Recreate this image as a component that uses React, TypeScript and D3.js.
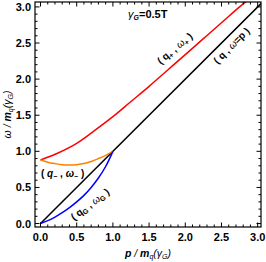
import React from 'react';
import { scaleLinear, line, curveCatmullRom, range } from 'd3';

const width = 266;
const height = 262;
const frame = { left: 35, right: 261, top: 2, bottom: 227 };

// curves
const pPlus = [0, 0.25, 0.5, 0.75, 1.0, 1.25, 1.5, 1.75, 2.0, 2.25, 2.5, 2.75, 2.9];
const wPlus = [0.88, 0.98, 1.11, 1.29, 1.48, 1.69, 1.9, 2.12, 2.34, 2.56, 2.78, 3.0, 3.12];

const pMinus = [0, 0.1, 0.2, 0.3, 0.4, 0.5, 0.6, 0.7, 0.8, 0.9, 1.0];
const wMinus = [0.88, 0.85, 0.83, 0.815, 0.81, 0.815, 0.83, 0.86, 0.9, 0.945, 1.0];

const pGluon = [0, 0.1, 0.2, 0.3, 0.4, 0.5, 0.6, 0.7, 0.8, 0.9, 1.0];
const wGluon = [0, 0.04, 0.09, 0.15, 0.22, 0.3, 0.39, 0.5, 0.63, 0.79, 1.0];

const pLight = [0, 3.1];
const wLight = [0, 3.1];

const majorTicks = [0, 0.5, 1.0, 1.5, 2.0, 2.5, 3.0];
const minorTicks = range(0, 31).map(i => i / 10);

const font = '"Liberation Sans", Arial, sans-serif';

const App = () => {
  const x = scaleLinear().domain([-0.076, 3.046]).range([frame.left, frame.right]);
  const y = scaleLinear().domain([-0.048, 3.068]).range([frame.bottom, frame.top]);

  const path = (ps: number[], ws: number[]) =>
    line<number>()
      .x(i => x(ps[i]))
      .y(i => y(ws[i]))
      .curve(curveCatmullRom)(ps.map((_, i) => i)) as string;

  const fw = frame.right - frame.left;
  const fh = frame.bottom - frame.top;

  return (
    <svg width={width} height={height} style={{ position: 'absolute', left: 0, top: 0 }} fontFamily={font}>
      <defs>
        <clipPath id="plot">
          <rect x={frame.left} y={frame.top} width={fw} height={fh} />
        </clipPath>
      </defs>

      <g clipPath="url(#plot)" fill="none" strokeWidth={1.5}>
        <path d={path(pLight, wLight)} stroke="#000" />
        <path d={path(pPlus, wPlus)} stroke="#ff0000" />
        <path d={path(pMinus, wMinus)} stroke="#ff8000" />
        <path d={path(pGluon, wGluon)} stroke="#0000ff" />
      </g>

      <rect x={frame.left} y={frame.top} width={fw} height={fh} fill="none" stroke="#000" strokeWidth={1.2} />

      {minorTicks.map(t => {
        const major = Math.abs(t * 2 - Math.round(t * 2)) < 1e-6;
        const len = major ? 4.5 : 2.5;
        return (
          <g key={t} stroke="#000" strokeWidth={1}>
            <line x1={x(t)} x2={x(t)} y1={frame.bottom} y2={frame.bottom - len} />
            <line x1={x(t)} x2={x(t)} y1={frame.top} y2={frame.top + len} />
            <line y1={y(t)} y2={y(t)} x1={frame.left} x2={frame.left + len} />
            <line y1={y(t)} y2={y(t)} x1={frame.right} x2={frame.right - len} />
          </g>
        );
      })}

      {majorTicks.map(t => (
        <text key={'x' + t} x={x(t)} y={frame.bottom + 14} textAnchor="middle" fontSize={11} fontWeight="bold">
          {t.toFixed(1)}
        </text>
      ))}
      {majorTicks.map(t => (
        <text key={'y' + t} x={frame.left - 4} y={y(t) + 4} textAnchor="end" fontSize={11} fontWeight="bold">
          {t.toFixed(1)}
        </text>
      ))}

      <text x={(frame.left + frame.right) / 2} y={257} textAnchor="middle" fontSize={10.5} fontStyle="italic">
        <tspan fontWeight="bold">p</tspan> / <tspan fontWeight="bold">m</tspan>
        <tspan fontSize={7} dy={2}>q</tspan>
        <tspan dy={-2}>(γ</tspan>
        <tspan fontSize={7} dy={2}>G</tspan>
        <tspan dy={-2}>)</tspan>
      </text>

      <text transform={`translate(11, ${(frame.top + frame.bottom) / 2}) rotate(-90)`} textAnchor="middle" fontSize={10.5} fontStyle="italic">
        <tspan>ω</tspan> / <tspan fontWeight="bold">m</tspan>
        <tspan fontSize={7} dy={2}>q</tspan>
        <tspan dy={-2}>(γ</tspan>
        <tspan fontSize={7} dy={2}>G</tspan>
        <tspan dy={-2}>)</tspan>
      </text>

      <text x={128} y={18} fontSize={11} fontWeight="bold">
        <tspan fontStyle="italic" fontWeight="normal">γ</tspan>
        <tspan fontSize={7} dy={2} fontStyle="italic">G</tspan>
        <tspan dy={-2}>=0.5T</tspan>
      </text>

      <text transform="translate(177, 51) rotate(-40)" textAnchor="middle" fontSize={10} fontWeight="bold">
        ( q<tspan fontSize={7} dy={2}>+</tspan><tspan dy={-2}> , </tspan>
        <tspan fontStyle="italic" fontWeight="normal">ω</tspan><tspan fontSize={7} dy={2}>+</tspan><tspan dy={-2}> )</tspan>
      </text>

      <text transform="translate(234, 48) rotate(-45)" textAnchor="middle" fontSize={10} fontWeight="bold">
        ( q , <tspan fontStyle="italic" fontWeight="normal">ω</tspan>=p )
      </text>

      <text x={41} y={177} fontSize={10} fontWeight="bold">
        ( <tspan fontStyle="italic">q</tspan><tspan fontSize={7} dy={2}>−</tspan><tspan dy={-2}> , </tspan>
        <tspan fontStyle="italic">ω</tspan><tspan fontSize={7} dy={2}>−</tspan><tspan dy={-2}> )</tspan>
      </text>

      <text transform="translate(92, 207) rotate(-37)" textAnchor="middle" fontSize={10} fontWeight="bold">
        ( q<tspan fontSize={7} dy={2}>G</tspan><tspan dy={-2}> , </tspan>
        <tspan fontStyle="italic" fontWeight="normal">ω</tspan><tspan fontSize={7} dy={2}>G</tspan><tspan dy={-2}> )</tspan>
      </text>
    </svg>
  );
};

export default App;
